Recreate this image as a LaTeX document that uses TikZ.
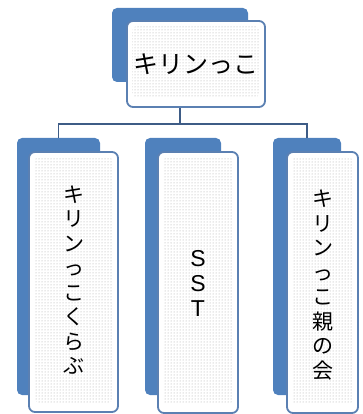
\documentclass[tikz,border=0pt]{standalone}
\usepackage{fontspec}
\newfontfamily\cjk{Noto Sans CJK JP}
\newfontfamily\arial{Liberation Sans}
\usetikzlibrary{patterns}
\definecolor{backblue}{HTML}{4F81BD}
\definecolor{edgeblue}{HTML}{5B80B2}
\definecolor{linkblue}{HTML}{3E5C86}
\begin{document}
\begin{tikzpicture}[x=1pt, y=-1pt]

	 % styles of the boxes
	 \tikzstyle{back}=[rectangle, fill=backblue, rounded corners=5pt, inner sep=0pt]
	 \tikzstyle{front}=[rectangle, draw=edgeblue, line width=1.8pt, fill=white, rounded corners=6pt, inner sep=0pt,
	     path picture={\fill[pattern=dots, pattern color=black!35]
	       ([xshift=5pt,yshift=-5pt]path picture bounding box.north west) rectangle
	       ([xshift=-5pt,yshift=9pt]path picture bounding box.south east);}]
	 \tikzstyle{link}=[draw=linkblue, line width=1.4pt]
	 \tikzstyle{vtext}=[align=center, font=\cjk\fontsize{21}{24.5}\selectfont]

	 \useasboundingbox (0,0) rectangle (363,414);

	 % top box
	 \node [back, minimum width=136pt, minimum height=74pt] (tback) at (180,45) {};
	 \node [front, minimum width=138pt, minimum height=86pt, font=\cjk\fontsize{25}{28}\selectfont] (top) at (196,64) {キリンっこ};

	 % child boxes
	 \node [back, minimum width=83pt, minimum height=257pt] (lback) at (58.5,266.5) {};
	 \node [front, minimum width=89pt, minimum height=260pt] (left) at (73.5,282) {};
	 \node [vtext] (ltext) at (73.5,280) {キ\\リ\\ン\\っ\\こ\\く\\ら\\ぶ};

	 \node [back, minimum width=76pt, minimum height=257pt] (mback) at (183,266.5) {};
	 \node [front, minimum width=80pt, minimum height=261pt] (mid) at (198,282.5) {};
	 \node [align=center, font=\arial\fontsize{23}{25}\selectfont] (mtext) at (198,283) {S\\S\\T};

	 \node [back, minimum width=68pt, minimum height=257pt] (rback) at (307,266.5) {};
	 \node [front, minimum width=71pt, minimum height=261pt] (right) at (322.5,282.5) {};
	 \node [vtext] (rtext) at (322.5,285) {キ\\リ\\ン\\っ\\こ\\親\\の\\会};

	 % connectors
	 \coordinate (bus) at (180,124);
	 \draw [link] (tback.south |- top.south) -- (bus);
	 \draw [link] (lback.north) -- (lback.north |- bus) -- (rback.north |- bus) -- (rback.north);

\end{tikzpicture}
\end{document}
